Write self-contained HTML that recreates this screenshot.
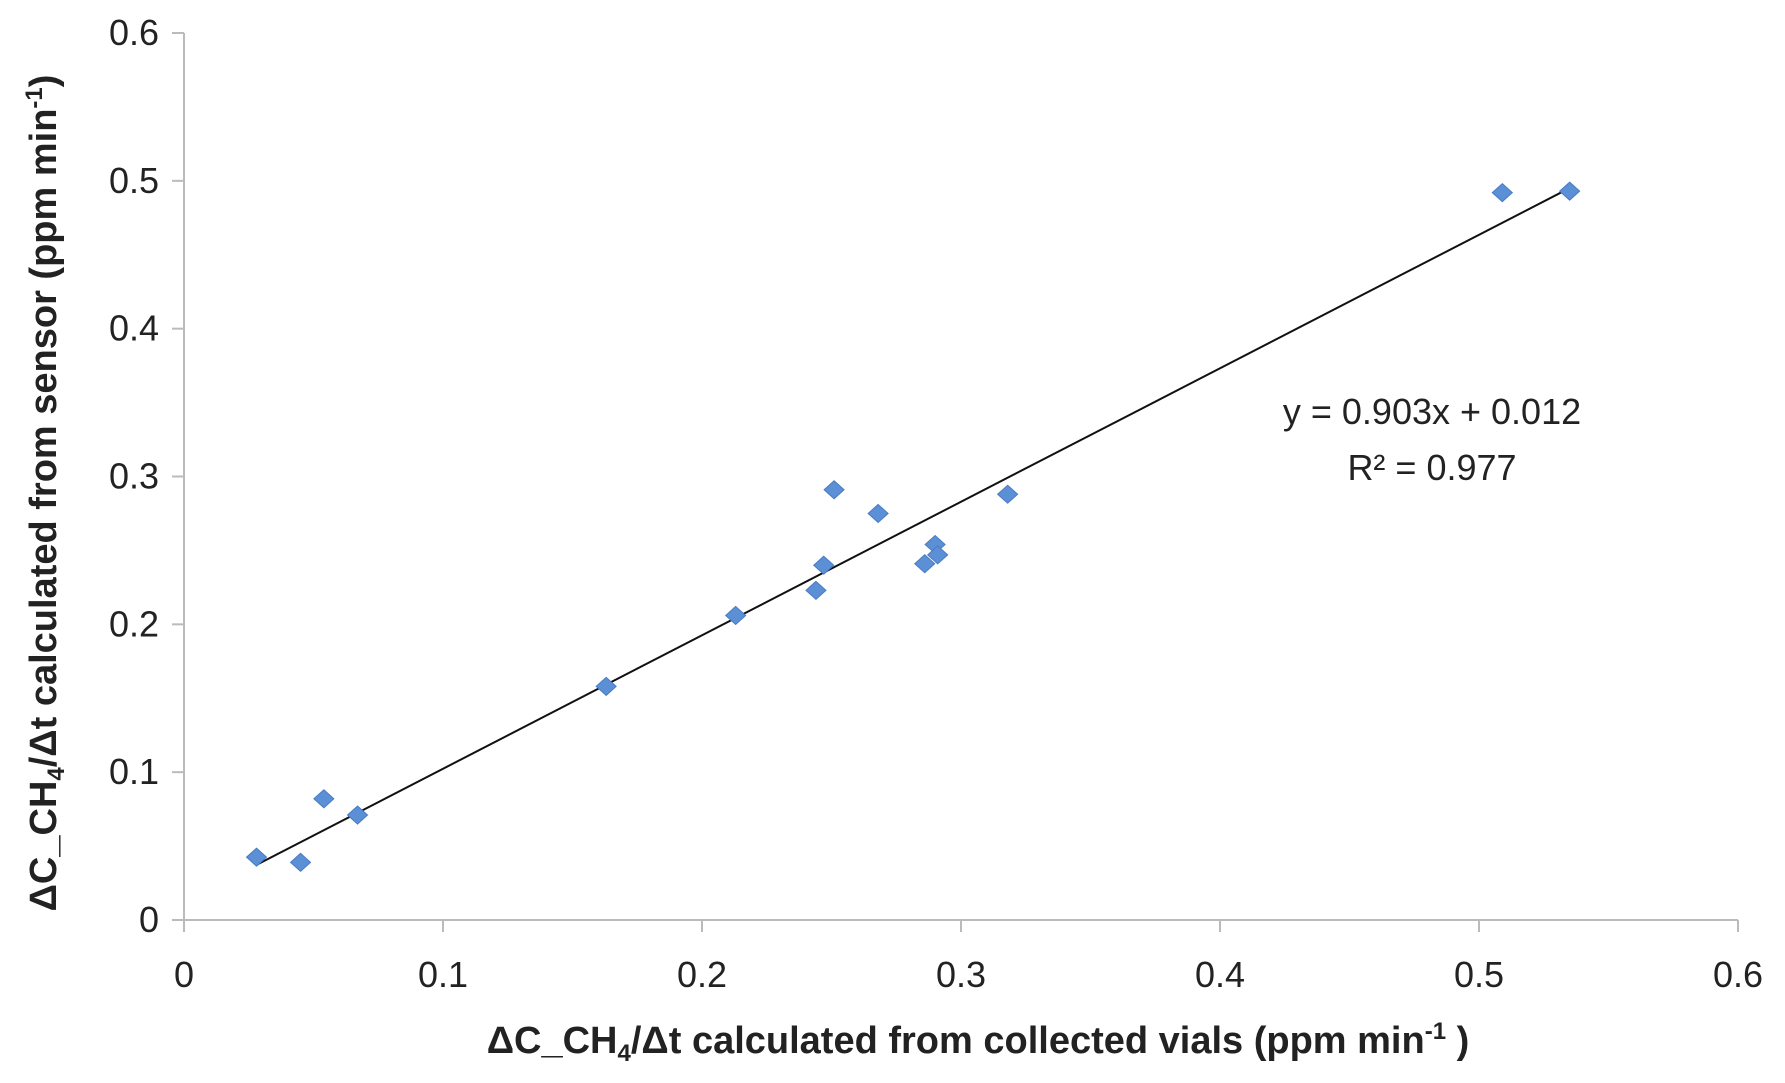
<!DOCTYPE html>
<html><head><meta charset="utf-8"><style>
html,body{margin:0;padding:0;background:#fff}
svg text{font-family:"Liberation Sans",sans-serif}
.tt{font-family:"Liberation Sans Narrow","Liberation Sans",sans-serif;font-weight:bold}
</style></head><body>
<svg id="chart" width="1785" height="1078" xmlns="http://www.w3.org/2000/svg">
<g id="axes"></g><g id="marks"></g>
<text x="1432" y="424" font-size="36" text-anchor="middle" fill="#222">y = 0.903x + 0.012</text>
<text x="1432" y="480" font-size="36" text-anchor="middle" fill="#222">R² = 0.977</text>
<text class="tt" x="978" y="1053" font-size="38" text-anchor="middle" fill="#222">ΔC_CH<tspan font-size="24" dy="8">4</tspan><tspan dy="-8">/Δt calculated from collected vials (ppm  min</tspan><tspan font-size="24" dy="-14">-1</tspan><tspan dy="14"> )</tspan></text>
<text class="tt" transform="translate(56,493) rotate(-90)" font-size="38" text-anchor="middle" fill="#222">ΔC_CH<tspan font-size="24" dy="8">4</tspan><tspan dy="-8">/Δt calculated from sensor (ppm  min</tspan><tspan font-size="24" dy="-14">-1</tspan><tspan dy="14">)</tspan></text>
</svg>
<script>
const xs=[0.028,0.045,0.054,0.067,0.163,0.213,0.244,0.247,0.251,0.268,0.286,0.290,0.291,0.318,0.509,0.535];
const ys=[0.0425,0.039,0.082,0.071,0.158,0.206,0.223,0.240,0.291,0.275,0.241,0.254,0.247,0.288,0.492,0.493];
const xTicks=[0,0.1,0.2,0.3,0.4,0.5,0.6];
const yTicks=[0,0.1,0.2,0.3,0.4,0.5,0.6];
const slope=0.903, intercept=0.012;
const X0=184,X1=1738,Y0=920,Y1=33;
const sx=v=>X0+(X1-X0)*v/0.6, sy=v=>Y0-(Y0-Y1)*v/0.6;
const NS="http://www.w3.org/2000/svg";
function mk(t,a,p){const e=document.createElementNS(NS,t);for(const k in a)e.setAttribute(k,a[k]);p.appendChild(e);return e;}
const ax=document.getElementById('axes'),mg=document.getElementById('marks');
let l=mk('line',{x1:X0,y1:Y0,x2:X1,y2:Y0,stroke:'#bbb','stroke-width':2},ax);

l=mk('line',{x1:X0,y1:Y0,x2:X0,y2:Y1,stroke:'#bbb','stroke-width':2},ax);

xTicks.forEach(v=>{const x=sx(v);
 let t=mk('line',{x1:x,y1:Y0,x2:x,y2:Y0+12,stroke:'#bbb','stroke-width':2},ax);
 
 let s=mk('text',{x:x,y:Y0+67,'font-size':36,'text-anchor':'middle',fill:'#222'},ax);s.textContent=String(v);
 });
yTicks.forEach(v=>{const y=sy(v);
 let t=mk('line',{x1:X0-12,y1:y,x2:X0,y2:y,stroke:'#bbb','stroke-width':2},ax);
 
 let s=mk('text',{x:X0-25,y:y+12,'font-size':36,'text-anchor':'end',fill:'#222'},ax);s.textContent=String(v);
 });
const xmin=Math.min(...xs),xmax=Math.max(...xs);
let tl=mk('line',{x1:sx(xmin),y1:sy(slope*xmin+intercept),x2:sx(xmax),y2:sy(slope*xmax+intercept),stroke:'#111','stroke-width':2},mg);

xs.forEach((v,i)=>{const x=sx(v),y=sy(ys[i]);
 let p=mk('polygon',{points:`${x},${y-9} ${x+10},${y} ${x},${y+9} ${x-10},${y}`,fill:'#5b8fd6',stroke:'#4a7cc2','stroke-width':1},mg);
 });
</script>
</body></html>
